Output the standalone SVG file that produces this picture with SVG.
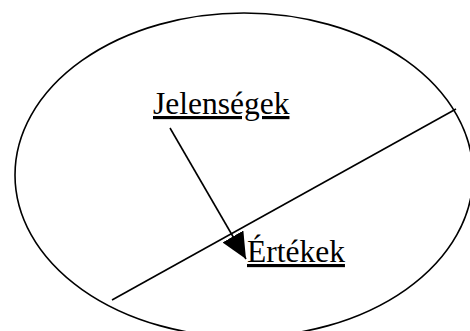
<svg xmlns="http://www.w3.org/2000/svg" width="470" height="331" viewBox="0 0 470 331">
<style>
.s{fill:none;stroke:#000;stroke-width:1.6}
.t{font-family:"Liberation Serif","Times New Roman",serif;font-size:31.5px;fill:#000;text-decoration:underline;text-decoration-skip-ink:none}
</style>
<defs>
<marker id="ah" markerUnits="userSpaceOnUse" markerWidth="30" markerHeight="30" refX="26" refY="12" orient="auto">
<path d="M0,0 L26,12 L0,24 Z" fill="#000"/>
</marker>
</defs>
<rect width="470" height="331" fill="#fff"/>
<g id="ellipse"><ellipse class="s" cx="244" cy="175" rx="229" ry="162"/></g>
<g id="divider"><line class="s" x1="112" y1="300" x2="456" y2="109"/></g>
<g id="jelensegek"><text class="t" x="153" y="114">Jelenségek</text></g>
<g id="ertekek"><text class="t" x="247" y="262">Értékek</text></g>
<g id="connectors"><line class="s" x1="170" y1="128" x2="246" y2="259" marker-end="url(#ah)"/></g>
</svg>
